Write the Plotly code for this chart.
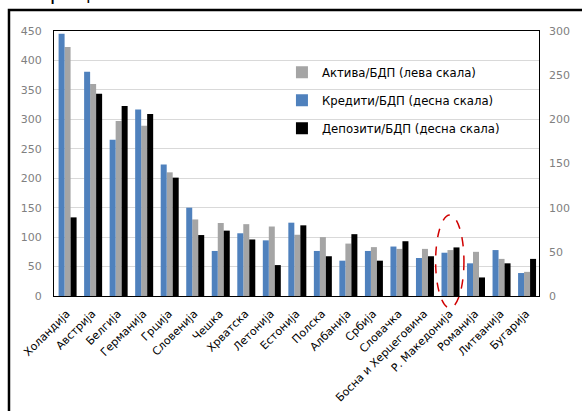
import plotly.graph_objects as go

countries = ["Холандија", "Австрија", "Белгија", "Германија", "Грција", "Словенија", "Чешка",
             "Хрватска", "Летонија", "Естонија", "Полска", "Албанија", "Србија", "Словачка",
             "Босна и Херцеговина", "Р. Македонија", "Романија", "Литванија", "Бугарија"]
assets_gdp = [423, 360, 297, 289, 210, 130, 124, 122, 118, 104, 100, 89, 83, 80, 80, 78, 75, 63, 41]
loans_gdp = [297, 254, 177, 211, 149, 100, 51, 71, 63, 83, 51, 40, 51, 56, 43, 49, 37, 52, 26]
deposits_gdp = [89, 229, 215, 206, 134, 69, 74, 64, 35, 80, 45, 70, 40, 62, 45, 55, 21, 37, 42]
highlight = "Р. Македонија"

FONT = "DejaVu Sans"
W = 0.235
fig = go.Figure()
fig.add_trace(go.Bar(x=countries, y=loans_gdp, name="Кредити/БДП (десна скала)", yaxis="y2",
                     marker=dict(color="#4F81BD", line=dict(width=0)), width=W, offset=-0.32,
                     legendrank=2, legendgroup="b"))
fig.add_trace(go.Bar(x=countries, y=assets_gdp, name="Актива/БДП (лева скала)", yaxis="y",
                     marker=dict(color="#A5A5A5", line=dict(width=0)), width=W, offset=-0.085,
                     legendrank=1, legendgroup="a"))
fig.add_trace(go.Bar(x=countries, y=deposits_gdp, name="Депозити/БДП (десна скала)", yaxis="y2",
                     marker=dict(color="#000000", line=dict(width=0)), width=W, offset=0.15,
                     legendrank=3, legendgroup="c"))

hi = countries.index(highlight)
fig.add_shape(type="circle", xref="x", yref="paper", x0=hi - 0.55, x1=hi + 0.56,
              y0=-0.045, y1=0.306, line=dict(color="#D00000", width=1.5, dash="dash"))
# outer frame (only top and left edges visible)
fig.add_shape(type="rect", xref="paper", yref="paper", x0=-0.0928, x1=1.3, y0=-0.6, y1=1.079,
              line=dict(color="black", width=2.5))
fig.add_annotation(text="во проценти", xref="paper", yref="paper", x=-0.107, y=1.092,
                   xanchor="left", yanchor="bottom", showarrow=False,
                   font=dict(family=FONT, size=21, color="black"))

fig.update_layout(
    width=582, height=411,
    margin=dict(l=54, r=43, t=31, b=115),
    paper_bgcolor="white", plot_bgcolor="white",
    barmode="overlay", showlegend=True,
    font=dict(family=FONT, size=11, color="black"),
    legend=dict(x=0.470, y=0.899, xanchor="left", yanchor="top", bgcolor="rgba(0,0,0,0)",
                font=dict(family=FONT, size=11.7, color="black"), tracegroupgap=9,
                itemwidth=30),
    xaxis=dict(type="category", tickangle=-45, showline=True, mirror=True, linecolor="black",
               linewidth=1, ticks="", tickfont=dict(size=11, color="black"), showgrid=False,
               automargin=False, ticklabelstandoff=6),
    yaxis=dict(range=[0, 450], dtick=50, showline=True, mirror=True, linecolor="black",
               linewidth=1, gridcolor="#D9D9D9", gridwidth=1, ticks="",
               tickfont=dict(size=11, color="#808080"), zeroline=False, automargin=False,
               ticklabelstandoff=9),
    yaxis2=dict(range=[0, 300], dtick=50, overlaying="y", side="right", showgrid=False,
                ticks="", tickfont=dict(size=11, color="#808080"), zeroline=False,
                showline=False, automargin=False, ticklabelstandoff=9),
)
fig.write_html("out.html", post_script="document.body.style.margin='0';",
               config={"displayModeBar": False})
